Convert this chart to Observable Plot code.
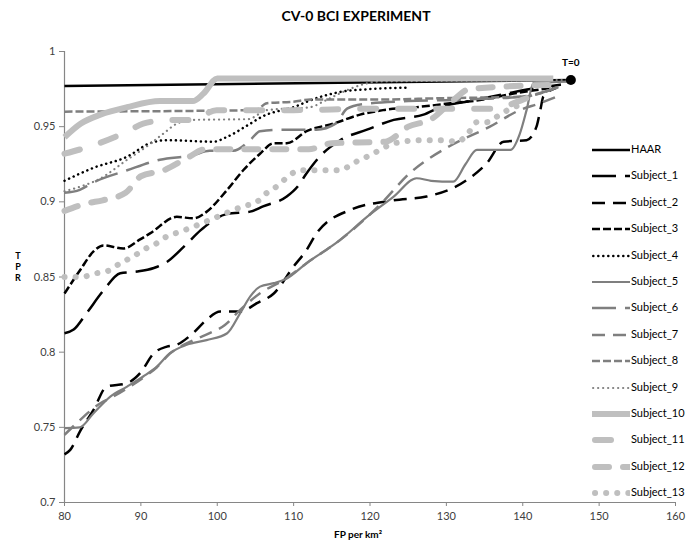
<!DOCTYPE html>
<html>
<head>
<meta charset="utf-8">
<script src="https://cdn.jsdelivr.net/npm/d3@7"></script>
<script src="https://cdn.jsdelivr.net/npm/@observablehq/plot@0.6"></script>
<style>
  html, body { margin: 0; padding: 0; background: #fff; }
  #wrap { position: relative; width: 692px; height: 543px; overflow: hidden; font-family: Lato, "Open Sans", sans-serif; }
  #title { position: absolute; left: 0; width: 692px; top: 7px; text-align: center; font-weight: bold; font-size: 14px; color: #000; padding-left: 20px; box-sizing: border-box; }
  #chart { position: absolute; left: 0; top: 36px; }
  #xlabel { position: absolute; top: 528px; left: 334px; font-size: 10px; font-weight: bold; color: #000; }
  #ylabel { position: absolute; left: 12px; top: 250px; width: 12px; text-align: center; font-size: 9px; font-weight: bold; line-height: 11px; color: #000; }
  #legend { position: absolute; left: 0; top: 0; }
  .lrow { position: absolute; left: 592px; height: 14px; }
  .lrow svg { position: absolute; left: 0; top: 0; }
  .lrow span { position: absolute; left: 39px; top: -1px; font-size: 11px; white-space: nowrap; color: #000; }
</style>
</head>
<body>
<div id="wrap">
  <div id="title">CV-0 BCI EXPERIMENT</div>
  <div id="chart"></div>
  <div id="xlabel">FP per km²</div>
  <div id="ylabel">T<br>P<br>R</div>
  <div id="legend"></div>
</div>
<script>
// ---------- data ----------
const seriesNames = ["HAAR","Subject_1","Subject_2","Subject_3","Subject_4","Subject_5","Subject_6","Subject_7","Subject_8","Subject_9","Subject_10","Subject_11","Subject_12","Subject_13"];
const xTicks = [80, 90, 100, 110, 120, 130, 140, 150, 160];
const yTicks = [0.7, 0.75, 0.8, 0.85, 0.9, 0.95, 1];

const haarX = [80, 146.3];
const haarY = [0.977, 0.981];

const s1x = [80, 81.2, 82.9, 85.1, 87.3, 89.5, 91.7, 93.4, 95.6, 97.8, 99, 101.3, 104.3, 106, 109.1, 110.5, 111.7, 113.4, 116.1, 119.6, 123.1, 127, 129.2, 133, 137.9, 141, 145];
const s1y = [0.8126, 0.815, 0.826, 0.841, 0.8525, 0.8536, 0.856, 0.86, 0.87, 0.881, 0.886, 0.892, 0.8935, 0.897, 0.9035, 0.91, 0.919, 0.93, 0.941, 0.948, 0.9545, 0.958, 0.963, 0.967, 0.972, 0.975, 0.978];

const s2x = [80, 80.75, 82.1, 83.8, 85.5, 88.2, 89.9, 91.7, 93.4, 94.7, 96.9, 98.6, 100.4, 103, 105.2, 107.4, 110, 111.7, 113, 117.4, 123.1, 127.4, 132.7, 135.3, 137.5, 140.5, 141.8, 142.3, 142.7, 144.5];
const s2y = [0.732, 0.735, 0.748, 0.7616, 0.777, 0.7794, 0.786, 0.7993, 0.8037, 0.805, 0.813, 0.8215, 0.827, 0.827, 0.8326, 0.839, 0.857, 0.868, 0.879, 0.8946, 0.901, 0.9035, 0.9146, 0.9257, 0.94, 0.941, 0.95, 0.961, 0.97, 0.976];

const s3x = [80, 82.1, 83.8, 85.1, 87.7, 89.9, 91.2, 94.7, 96.9, 98.5, 101.3, 103.4, 105.6, 107.4, 109.1, 111.7, 115.2, 118.7, 121.7, 126.1, 130.5, 134.8, 138.8, 144];
const s3y = [0.839, 0.855, 0.867, 0.871, 0.869, 0.875, 0.879, 0.89, 0.889, 0.893, 0.908, 0.921, 0.932, 0.939, 0.939, 0.947, 0.952, 0.958, 0.961, 0.963, 0.9655, 0.968, 0.972, 0.976];

const s4x = [80, 84, 88.2, 91.2, 93.4, 99.5, 101.2, 104, 106, 110, 113, 116, 120, 125];
const s4y = [0.914, 0.923, 0.93, 0.939, 0.941, 0.94, 0.943, 0.951, 0.957, 0.963, 0.969, 0.973, 0.975, 0.976];

const s5x = [80, 82, 83.8, 86, 88.2, 90.3, 92.1, 93.8, 96, 98.6, 101.3, 103, 104.3, 105.6, 107.4, 109.1, 111.7, 116.1, 119.6, 123.1, 126.1, 128, 130.9, 132.5, 134, 138.4, 139.6, 140.5, 141.4, 146];
const s5y = [0.7495, 0.75, 0.7594, 0.7705, 0.7771, 0.7838, 0.7904, 0.7993, 0.8049, 0.808, 0.8126, 0.8259, 0.837, 0.8436, 0.8459, 0.849, 0.8592, 0.8747, 0.89, 0.9035, 0.9157, 0.914, 0.9134, 0.925, 0.9345, 0.9345, 0.945, 0.961, 0.979, 0.98];

const s6x = [80, 82, 83.8, 88.2, 92.5, 96.8, 99, 102.1, 104.3, 105.6, 109.1, 113, 115.5, 117, 119, 125, 132, 140, 145];
const s6y = [0.906, 0.908, 0.913, 0.921, 0.928, 0.931, 0.934, 0.934, 0.941, 0.947, 0.948, 0.948, 0.952, 0.962, 0.965, 0.967, 0.968, 0.97, 0.977];

const s7x = [80, 81.6, 84.7, 86.4, 88.2, 90.3, 92.1, 93.8, 96.9, 99, 101, 103, 105.6, 108.7, 111.7, 116.1, 121.3, 125.2, 130.4, 135.7, 139.6, 142.2, 144.5];
const s7y = [0.745, 0.7528, 0.766, 0.7705, 0.776, 0.783, 0.79, 0.799, 0.808, 0.8126, 0.818, 0.8281, 0.8392, 0.848, 0.8592, 0.8747, 0.898, 0.919, 0.937, 0.95, 0.961, 0.9655, 0.97];

const s8x = [80, 105, 106.5, 110, 112.2, 120, 130, 140, 144];
const s8y = [0.96, 0.961, 0.9656, 0.9666, 0.968, 0.968, 0.969, 0.97, 0.975];

const s9x = [80, 82, 84.5, 88.2, 90.8, 93, 94.7, 96.9, 104, 106.5, 112.2, 114, 116, 119, 121, 146];
const s9y = [0.907, 0.91, 0.915, 0.928, 0.937, 0.9456, 0.952, 0.9545, 0.955, 0.961, 0.963, 0.967, 0.972, 0.978, 0.98, 0.981];

const s10x = [80, 82.1, 84.7, 88.2, 92.5, 96.8, 98.2, 100, 102, 144];
const s10y = [0.943, 0.952, 0.958, 0.963, 0.967, 0.967, 0.972, 0.982, 0.982, 0.982];

const s11x = [80, 83.4, 88.2, 90.3, 93.8, 96.8, 99.9, 102.1, 110, 120, 130, 136, 140, 143];
const s11y = [0.932, 0.937, 0.9467, 0.952, 0.9545, 0.9545, 0.961, 0.961, 0.961, 0.962, 0.962, 0.962, 0.968, 0.975];

const s12x = [80, 83, 85, 88, 90, 93, 96, 98.5, 101, 112, 115, 122, 125, 128, 131, 133, 145];
const s12y = [0.894, 0.899, 0.901, 0.906, 0.917, 0.921, 0.929, 0.935, 0.935, 0.935, 0.939, 0.94, 0.95, 0.955, 0.968, 0.975, 0.978];

const s13x = [80, 82.1, 84.2, 86, 87.3, 89, 90.3, 92.1, 93.4, 95.1, 96.9, 98.6, 103.4, 105.2, 106.5, 108, 109.3, 110.8, 116.1, 117.8, 119.6, 121.3, 122.6, 124.4, 126.1, 129.6, 131.4, 132.7, 134, 135.3, 137, 138.4, 140];
const s13y = [0.85, 0.85, 0.8525, 0.8547, 0.8592, 0.8636, 0.868, 0.8725, 0.877, 0.88, 0.8835, 0.887, 0.897, 0.9, 0.906, 0.911, 0.917, 0.921, 0.921, 0.9257, 0.93, 0.9345, 0.938, 0.94, 0.941, 0.941, 0.94, 0.9445, 0.953, 0.953, 0.958, 0.962, 0.965];

const tZeroX = [146.3];
const tZeroY = [0.981];
const tZeroLabel = ["T=0"];

// ---------- styles ----------
const BLACK = "#000000", GRAY = "#7f7f7f", LIGHT = "#bfbfbf";
const seriesStyles = [
  {stroke: BLACK, width: 2.5, dash: null, cap: "butt"},
  {stroke: BLACK, width: 2.5, dash: "24,9", cap: "butt"},
  {stroke: BLACK, width: 2.5, dash: "13,8", cap: "butt"},
  {stroke: BLACK, width: 2.5, dash: "8,3", cap: "butt"},
  {stroke: BLACK, width: 2.5, dash: "0.1,4.9", cap: "round"},
  {stroke: GRAY, width: 2.2, dash: null, cap: "butt"},
  {stroke: GRAY, width: 2.5, dash: "24,9", cap: "butt"},
  {stroke: GRAY, width: 2.5, dash: "13,8", cap: "butt"},
  {stroke: GRAY, width: 2.5, dash: "8,3", cap: "butt"},
  {stroke: GRAY, width: 2.2, dash: "0.1,4.9", cap: "round"},
  {stroke: LIGHT, width: 6, dash: null, cap: "butt"},
  {stroke: LIGHT, width: 6, dash: "16,22", cap: "round"},
  {stroke: LIGHT, width: 6, dash: "14,14", cap: "round"},
  {stroke: LIGHT, width: 6, dash: "0.1,11", cap: "round"}
];

const seriesX = [haarX, s1x, s2x, s3x, s4x, s5x, s6x, s7x, s8x, s9x, s10x, s11x, s12x, s13x];
const seriesY = [haarY, s1y, s2y, s3y, s4y, s5y, s6y, s7y, s8y, s9y, s10y, s11y, s12y, s13y];

const lineMarks = seriesNames.map((name, i) => {
  const data = seriesX[i].map((x, j) => ({series: name, x, y: seriesY[i][j]}));
  const st = seriesStyles[i];
  const opts = {x: "x", y: "y", stroke: st.stroke, strokeWidth: st.width, strokeLinecap: st.cap, strokeLinejoin: "round", curve: "monotone-x"};
  if (st.dash) opts.strokeDasharray = st.dash;
  return Plot.line(data, opts);
});

const tZero = tZeroX.map((x, i) => ({x, y: tZeroY[i], label: tZeroLabel[i]}));

const chart = Plot.plot({
  width: 692,
  height: 507,
  marginLeft: 64,
  marginRight: 17,
  marginTop: 15,
  marginBottom: 41,
  x: {domain: [80, 160]},
  y: {domain: [0.7, 1]},
  style: {fontFamily: "Lato, 'Open Sans', sans-serif", fontSize: "11px", background: "white", color: "#404040", overflow: "visible"},
  marks: [
    Plot.axisX({ticks: xTicks, tickSize: 4, tickPadding: 6, stroke: "#868686", fill: "#404040", label: null, fontSize: 11}),
    Plot.axisY({ticks: yTicks, tickSize: 5, tickPadding: 4, stroke: "#868686", fill: "#404040", label: null, fontSize: 11, tickFormat: d => String(+d.toFixed(2))}),
    Plot.ruleY([0.7], {stroke: "#868686", strokeWidth: 1.2}),
    Plot.ruleX([80], {stroke: "#868686", strokeWidth: 1.2}),
    ...lineMarks,
    Plot.dot(tZero, {x: "x", y: "y", r: 5, fill: "black", stroke: null}),
    Plot.text(tZero, {x: "x", y: "y", text: "label", dy: -17, fontSize: 10, fontWeight: "bold", fill: "black"})
  ]
});
document.getElementById("chart").appendChild(chart);

// ---------- legend ----------
const legend = d3.select("#legend");
const legendTop = 150, legendStep = 26.4;
seriesNames.forEach((name, i) => {
  const st = seriesStyles[i];
  const row = legend.append("div").attr("class", "lrow").style("top", (legendTop + i * legendStep - 7) + "px");
  const svg = row.append("svg").attr("width", 38).attr("height", 14);
  svg.append("line")
    .attr("x1", st.cap === "round" ? st.width / 2 : 0).attr("x2", 38).attr("y1", 7).attr("y2", 7)
    .attr("stroke", st.stroke).attr("stroke-width", st.width)
    .attr("stroke-linecap", st.cap)
    .attr("stroke-dasharray", st.dash);
  row.append("span").text(name);
});
</script>
</body>
</html>
